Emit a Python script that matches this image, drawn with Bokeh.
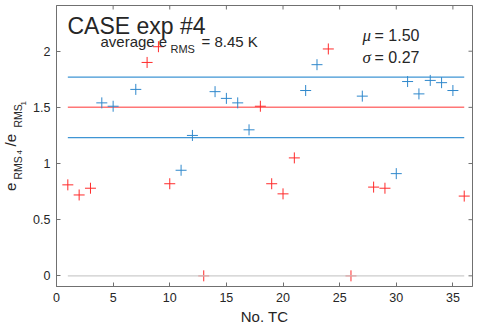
import math
from bokeh.plotting import figure
from bokeh.models import Label, FixedTicker
from bokeh.layouts import row
from bokeh.core.properties import value
from bokeh.embed import file_html
from bokeh.resources import INLINE

# ---- data ----
tc_red = [1, 2, 3, 8, 9, 10, 13, 18, 19, 20, 21, 24, 26, 28, 29, 36]
ratio_red = [0.81, 0.72, 0.78, 1.90, 2.04, 0.82, 0.0, 1.51, 0.82, 0.73, 1.05, 2.02, 0.0, 0.79, 0.78, 0.71]
tc_blue = [4, 5, 7, 11, 12, 14, 15, 16, 17, 22, 23, 27, 30, 31, 32, 33, 34, 35]
ratio_blue = [1.54, 1.51, 1.66, 0.94, 1.25, 1.64, 1.58, 1.54, 1.30, 1.65, 1.88, 1.60, 0.91, 1.73, 1.62, 1.74, 1.72, 1.65]
mu = 1.50
sigma = 0.27
avg_erms = 8.45
case_no = 4
x_ticks = [0, 5, 10, 15, 20, 25, 30, 35]
y_ticks = [0, 0.5, 1, 1.5, 2]
y_tick_labels = ["0", "0.5", "1", "1.5", "2"]

FONT = "Liberation Sans"
AX = "#707070"
TXT = "#262626"
RED = "#ff2b2b"
RED_LINE = "#ff7777"
BLUE = "#2f88cc"
BLUE_LINE = "#3f95d4"

W, H = 480, 327
LW = 30                 # width of the y-label strip
X0, X1 = 0, 36.73
Y0, Y1 = -0.095, 2.407
FL, FW = 56, 416        # frame left/width (page px)
FT, FH = 5, 281         # frame top/height (page px)
TICK = 4                # inward tick length (px)

# ---------- y-label strip (rich text with subscripts) ----------
# its frame is aligned with the main plot's frame (FT .. FT+FH)
ly = figure(width=LW, height=H, x_range=(0, LW), y_range=(H - FT - FH, H - FT),
            output_backend="svg", toolbar_location=None,
            x_axis_location=None, y_axis_location=None,
            min_border=0, min_border_left=0, min_border_right=0,
            min_border_top=FT, min_border_bottom=H - FT - FH)
ly.grid.visible = False
ly.outline_line_color = None
ly.background_fill_color = "white"
ly.border_fill_color = "white"

ylab_x = [10, 17, 18.5, 10, 17, 23]
ylab_y = [190.5, 179, 154, 146, 127, 105]
ylab_t = ["e", "RMS", "4", "/e", "RMS", "1"]
ylab_s = ["15px", "10.5px", "8px", "15px", "10.5px", "8px"]
ly.text(x=ylab_x, y=[H - v for v in ylab_y], text=ylab_t,
        text_font_size=ylab_s, text_font=value(FONT), text_color=TXT,
        text_align="left", text_baseline="alphabetic", angle=math.pi / 2)

# ---------- main plot ----------
PW = W - LW
p = figure(width=PW, height=H, x_range=(X0, X1), y_range=(Y0, Y1),
           output_backend="svg", toolbar_location=None,
           min_border_left=FL - LW, min_border_right=PW - (FL - LW) - FW,
           min_border_top=FT, min_border_bottom=H - FT - FH)
p.grid.visible = False
p.outline_line_color = AX
p.background_fill_color = "white"
p.border_fill_color = "white"

for ax in (p.xaxis[0], p.yaxis[0]):
    ax.major_tick_in = TICK
    ax.major_tick_out = 0
    ax.minor_tick_line_color = None
    ax.major_tick_line_color = AX
    ax.axis_line_color = AX
    ax.major_label_text_font = FONT
    ax.major_label_text_color = TXT
    ax.major_label_text_font_size = "12.5px"
    ax.major_label_standoff = 6

p.xaxis.ticker = FixedTicker(ticks=x_ticks)
p.yaxis.ticker = FixedTicker(ticks=y_ticks)
p.yaxis.major_label_overrides = {t: s for t, s in zip(y_ticks, y_tick_labels)}
p.xaxis.axis_label = "No. TC"
p.xaxis.axis_label_text_font = FONT
p.xaxis.axis_label_text_font_size = "15px"
p.xaxis.axis_label_text_font_style = "normal"
p.xaxis.axis_label_text_color = TXT
p.xaxis.axis_label_standoff = 3

# inward ticks on the top and right edges of the box
dy = TICK * (Y1 - Y0) / FH
dx = TICK * (X1 - X0) / FW
p.segment(x0=x_ticks, y0=[Y1] * len(x_ticks), x1=x_ticks, y1=[Y1 - dy] * len(x_ticks),
          line_color=AX, line_width=1)
p.segment(x0=[X1] * len(y_ticks), y0=y_ticks, x1=[X1 - dx] * len(y_ticks), y1=y_ticks,
          line_color=AX, line_width=1)

# mean and +/- sigma lines
tc_all = sorted(tc_red + tc_blue)
xs = [tc_all[0], tc_all[-1]]
p.line(xs, [mu + sigma] * 2, line_color=BLUE_LINE, line_width=1.2)
p.line(xs, [mu - sigma] * 2, line_color=BLUE_LINE, line_width=1.2)
p.line(xs, [mu] * 2, line_color=RED_LINE, line_width=1.5)

p.scatter(tc_red, ratio_red, marker="cross", size=11, line_color=RED, line_width=1)
p.scatter(tc_blue, ratio_blue, marker="cross", size=11, line_color=BLUE, line_width=1)
p.line(xs, [0, 0], line_color="#cccccc", line_width=1.2)

# page-pixel -> data helpers for text placement inside the frame
def X(px):
    return X0 + (px - FL) * (X1 - X0) / FW

def Y(py):
    return Y0 + (FT + FH - py) * (Y1 - Y0) / FH

def lab(px, py, text, size, align="left", style="normal", font=FONT):
    p.add_layout(Label(x=X(px), y=Y(py), text=text, text_font=font,
                       text_font_size=size, text_color=TXT, text_align=align,
                       text_baseline="alphabetic", text_font_style=style))

lab(67, 25, "CASE exp #%d" % case_no, "23px")
lab(100, 40.5, "average e", "15px")
lab(170, 48, "RMS", "11px")
lab(201, 40.5, "= %.2f K" % avg_erms, "15px")
lab(362, 35, "\u03bc", "17px", style="italic", font="Liberation Serif")
lab(374, 35, "= %.2f" % mu, "16px")
lab(362, 56.5, "\u03c3", "17px", style="italic", font="Liberation Serif")
lab(374, 56.5, "= %.2f" % sigma, "16px")

layout = row(ly, p, spacing=0)
open("out.html", "w").write(file_html(layout, INLINE))
